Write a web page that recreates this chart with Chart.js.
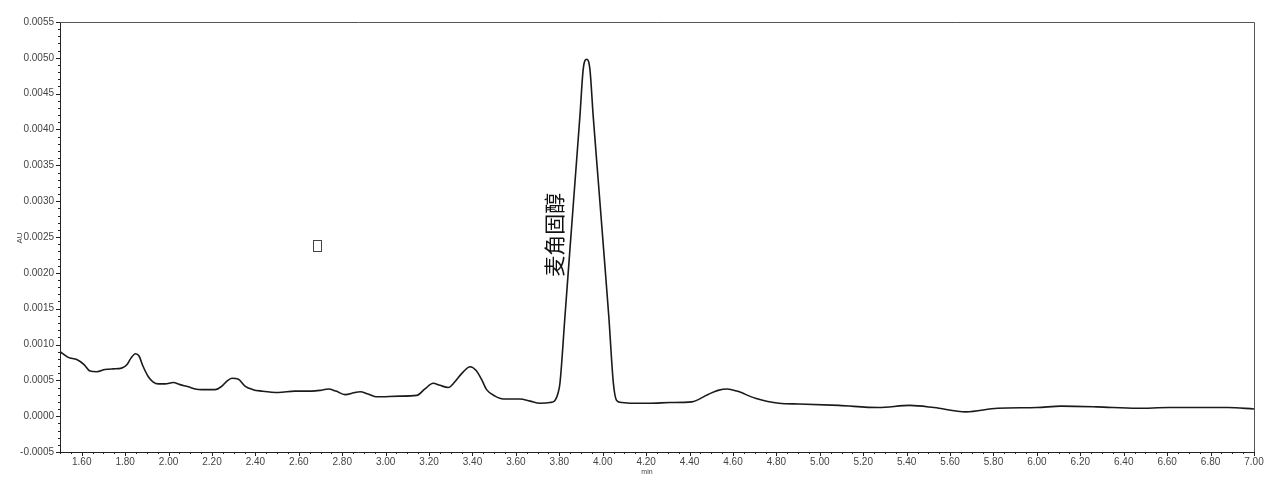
<!DOCTYPE html>
<html>
<head>
<meta charset="utf-8">
<title>Chromatogram</title>
<script src="https://cdn.jsdelivr.net/npm/chart.js@4.4.1/dist/chart.umd.min.js"></script>
<style>
  html, body { margin: 0; padding: 0; background: #fff; }
  #wrap { width: 1280px; height: 494px; position: relative; }
</style>
</head>
<body>
<div id="wrap"><canvas id="chrom"></canvas></div>
<script>
// Retention time (min) and absorbance (AU)
const retentionTimes = [
  1.500, 1.538, 1.577, 1.611, 1.638, 1.670, 1.707, 1.744, 1.784, 1.809,
  1.827, 1.848, 1.864, 1.882, 1.907, 1.928, 1.953, 1.984, 2.022, 2.053,
  2.091, 2.122, 2.153, 2.214, 2.246, 2.269, 2.292, 2.320, 2.352, 2.389,
  2.429, 2.506, 2.582, 2.659, 2.698, 2.736, 2.771, 2.813, 2.859, 2.882,
  2.919, 2.959, 3.066, 3.143, 3.181, 3.219, 3.250, 3.289, 3.319, 3.352,
  3.389, 3.416, 3.444, 3.465, 3.504, 3.542, 3.619, 3.665, 3.711, 3.757,
  3.780, 3.794, 3.803, 3.826, 3.849, 3.872, 3.895, 3.910, 3.926, 3.941,
  3.956, 3.980, 4.004, 4.028, 4.049, 4.064, 4.089, 4.125, 4.218, 4.310,
  4.410, 4.483, 4.531, 4.574, 4.618, 4.703, 4.812, 4.904, 5.087, 5.270,
  5.415, 5.526, 5.673, 5.819, 6.000, 6.111, 6.277, 6.461, 6.608, 6.733,
  6.880, 7.000
];
const absorbance = [
  0.00090, 0.00082, 0.00079, 0.00072, 0.00063, 0.00062, 0.00065, 0.00066, 0.00067, 0.00072,
  0.00081, 0.00087, 0.00084, 0.00070, 0.00055, 0.00048, 0.00045, 0.00045, 0.00047, 0.00044,
  0.00041, 0.00038, 0.00037, 0.00037, 0.00042, 0.00049, 0.00053, 0.00052, 0.00042, 0.00037,
  0.00035, 0.00033, 0.00035, 0.00035, 0.00036, 0.00038, 0.00035, 0.00030, 0.00033, 0.00034,
  0.00031, 0.00027, 0.00028, 0.00029, 0.00038, 0.00046, 0.00043, 0.00040, 0.00048, 0.00060,
  0.00069, 0.00064, 0.00050, 0.00037, 0.00028, 0.00024, 0.00024, 0.00021, 0.00018, 0.00019,
  0.00022, 0.00032, 0.00046, 0.00139, 0.00233, 0.00326, 0.00419, 0.00484, 0.00498, 0.00484,
  0.00419, 0.00326, 0.00233, 0.00139, 0.00046, 0.00022, 0.00019, 0.00018, 0.00018, 0.00019,
  0.00020, 0.00030, 0.00036, 0.00038, 0.00035, 0.00025, 0.00018, 0.00017, 0.00015, 0.00012,
  0.00015, 0.00012, 0.00006, 0.00011, 0.00012, 0.00014, 0.00013, 0.00011, 0.00012, 0.00012,
  0.00012, 0.00010
];

// axis ranges and labels
const xRange = [1.5, 7.0];
const yRange = [-0.0005, 0.0055];
const xLabelStep = 0.2;
const yLabelStep = 0.0005;
const peakLabel = '麦角固醇';
const peakLabelAt = [3.777, 0.00253];
const yTitle = 'AU';
const xTitle = 'min';

const points = retentionTimes.map((t, i) => ({ x: t, y: absorbance[i] }));

// minor ticks, frame, axis titles and the peak label
const decorations = {
  id: 'decorations',
  afterDraw(chart) {
    const ctx = chart.ctx;
    const xs = chart.scales.x, ys = chart.scales.y;
    const area = chart.chartArea;
    ctx.save();

    // frame top / right
    ctx.strokeStyle = '#555';
    ctx.lineWidth = 1;
    ctx.beginPath();
    ctx.moveTo(area.left, area.top + 0.5);
    ctx.lineTo(area.right + 0.5, area.top + 0.5);
    ctx.lineTo(area.right + 0.5, area.bottom);
    ctx.stroke();

    // y ticks every 0.0001
    ctx.strokeStyle = '#222';
    ctx.beginPath();
    for (let k = -5; k <= 55; k++) {
      const py = Math.round(ys.getPixelForValue(k * 0.0001)) + 0.5;
      const len = (k % 5 === 0) ? 4 : 2;
      ctx.moveTo(area.left - len, py);
      ctx.lineTo(area.left, py);
    }
    // x ticks every 0.05
    for (let k = 30; k <= 140; k++) {
      const px = Math.round(xs.getPixelForValue(k * 0.05)) + 0.5;
      const len = (k % 4 === 0) ? 4 : 2;
      ctx.moveTo(px, area.bottom);
      ctx.lineTo(px, area.bottom + len);
    }
    ctx.stroke();

    // axis titles
    ctx.fillStyle = '#444';
    ctx.textAlign = 'center';
    ctx.textBaseline = 'middle';
    ctx.font = '7px "Liberation Sans", Arial, sans-serif';
    ctx.fillText(xTitle, 647, 472);
    ctx.font = '8px "Liberation Sans", Arial, sans-serif';
    ctx.save();
    ctx.translate(20, 238);
    ctx.rotate(-Math.PI / 2);
    ctx.fillText(yTitle, 0, 0);
    ctx.restore();

    // missing-glyph box left from the source
    ctx.strokeStyle = '#444';
    ctx.strokeRect(313.5, 240.5, 8, 11);

    // peak name
    const lx = xs.getPixelForValue(peakLabelAt[0]);
    const ly = ys.getPixelForValue(peakLabelAt[1]);
    ctx.save();
    ctx.translate(lx, ly);
    ctx.rotate(-Math.PI / 2);
    ctx.fillStyle = '#111';
    ctx.font = '21px "Noto Sans CJK SC", sans-serif';
    ctx.fillText(peakLabel, 0, 0);
    ctx.restore();

    ctx.restore();
  }
};

const tickFont = { family: '"Liberation Sans", Arial, sans-serif', size: 10 };

new Chart(document.getElementById('chrom'), {
  type: 'line',
  data: {
    datasets: [{
      data: points,
      borderColor: '#1a1a1a',
      borderWidth: 1.6,
      pointRadius: 0,
      fill: false,
      cubicInterpolationMode: 'monotone'
    }]
  },
  options: {
    responsive: true,
    maintainAspectRatio: false,
    animation: false,
    layout: { padding: { top: 22, right: 26, left: 0, bottom: 0 } },
    plugins: { legend: { display: false }, tooltip: { enabled: false } },
    scales: {
      x: {
        type: 'linear',
        min: xRange[0],
        max: xRange[1],
        afterFit(scale) { scale.height = 42; },
        grid: { display: false, drawTicks: false },
        border: { display: true, color: '#222', width: 1 },
        ticks: {
          stepSize: xLabelStep,
          padding: 4,
          color: '#444',
          font: tickFont,
          maxRotation: 0,
          autoSkip: false,
          callback: v => {
            const r = Math.round(v * 100) / 100;
            return (Math.abs(r * 5 - Math.round(r * 5)) < 1e-6 && r > 1.55) ? r.toFixed(2) : '';
          }
        },
        afterBuildTicks(scale) {
          const t = [];
          for (let k = 8; k <= 35; k++) t.push({ value: k * xLabelStep });
          scale.ticks = t;
        }
      },
      y: {
        min: yRange[0],
        max: yRange[1],
        afterFit(scale) { scale.width = 60; },
        grid: { display: false, drawTicks: false },
        border: { display: true, color: '#222', width: 1 },
        ticks: {
          stepSize: yLabelStep,
          padding: 6,
          color: '#444',
          font: tickFont,
          callback: v => (Math.abs(v) < 1e-9 ? 0 : v).toFixed(4)
        }
      }
    }
  },
  plugins: [decorations]
});
</script>
</body>
</html>
